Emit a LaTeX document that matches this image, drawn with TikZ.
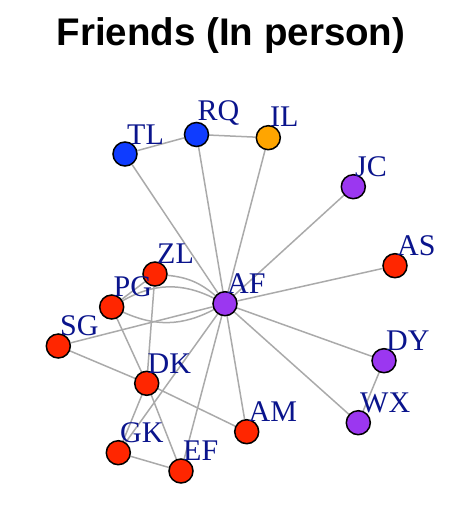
\documentclass[tikz,border=0pt]{standalone}
\usepackage{fontspec}
\setmainfont{Liberation Serif}
\newfontfamily\titlefont{Liberation Sans}
\usetikzlibrary{backgrounds}
\definecolor{vred}{RGB}{255,38,0}
\definecolor{vblue}{RGB}{15,60,255}
\definecolor{vorange}{RGB}{255,165,0}
\definecolor{vpurple}{RGB}{155,55,240}
\definecolor{lblblue}{RGB}{10,20,140}
\definecolor{edgegray}{RGB}{170,170,170}

\begin{document}
\begin{tikzpicture}[x=1pt,y=-1pt,
    vtx/.style={circle,draw=black,line width=1.5pt,minimum size=24pt,inner sep=0pt},
    lbl/.style={anchor=base west,inner sep=0pt,text=lblblue,font=\fontsize{30}{30}\selectfont},
    edge/.style={draw=edgegray,line width=1.5pt}]
    % Page in pixel units, y pointing down
    \useasboundingbox (0,0) rectangle (474,506);
    \node[font=\titlefont\bfseries\fontsize{38.5}{40}\selectfont,anchor=base] (title) at (231,45) {Friends (In person)};
    % Vertices
    \node[vtx,fill=vblue]   (TL) at (125,154) {};
    \node[vtx,fill=vblue]   (RQ) at (196.5,134.5) {};
    \node[vtx,fill=vorange] (IL) at (268.3,137.7) {};
    \node[vtx,fill=vpurple] (JC) at (353.3,186.7) {};
    \node[vtx,fill=vred]    (AS) at (395,265.7) {};
    \node[vtx,fill=vpurple] (AF) at (225,303.7) {};
    \node[vtx,fill=vred]    (ZL) at (155,274) {};
    \node[vtx,fill=vred]    (PG) at (111.7,307) {};
    \node[vtx,fill=vred]    (SG) at (58.3,346) {};
    \node[vtx,fill=vred]    (DK) at (146.7,383.3) {};
    \node[vtx,fill=vpurple] (DY) at (384,360.7) {};
    \node[vtx,fill=vpurple] (WX) at (358.3,422.7) {};
    \node[vtx,fill=vred]    (AM) at (246.7,431.7) {};
    \node[vtx,fill=vred]    (GK) at (118.3,452.7) {};
    \node[vtx,fill=vred]    (EF) at (181,471) {};
    % Labels, up and to the right of each vertex
    \node[lbl] (TLl) at (127,144.5) {TL};
    \node[lbl] (RQl) at (197.5,120) {RQ};
    \node[lbl] (ILl) at (270,126.5) {IL};
    \node[lbl] (JCl) at (355,176) {JC};
    \node[lbl] (ASl) at (397,255.5) {AS};
    \node[lbl] (AFl) at (227,293) {AF};
    \node[lbl] (ZLl) at (157,263.5) {ZL};
    \node[lbl] (PGl) at (113.5,296.5) {PG};
    \node[lbl] (SGl) at (60,335.5) {SG};
    \node[lbl] (DKl) at (147.5,373) {DK};
    \node[lbl] (DYl) at (386,350) {DY};
    \node[lbl] (WXl) at (360,412) {WX};
    \node[lbl] (AMl) at (248.5,421) {AM};
    \node[lbl] (GKl) at (120,442) {GK};
    \node[lbl] (EFl) at (183,460.5) {EF};
    % Edges, behind the vertices
    \begin{scope}[on background layer]
        \draw[edge] (TL) -- (RQ);
        \draw[edge] (RQ) -- (IL);
        \draw[edge] (TL) -- (AF);
        \draw[edge] (RQ) -- (AF);
        \draw[edge] (IL) -- (AF);
        \draw[edge] (JC) -- (AF);
        \draw[edge] (AS) -- (AF);
        \draw[edge] (DY) -- (AF);
        \draw[edge] (WX) -- (AF);
        \draw[edge] (DY) -- (WX);
        \draw[edge] (AM) -- (AF);
        \draw[edge] (EF) -- (AF);
        \draw[edge] (GK) -- (AF);
        \draw[edge] (SG) -- (AF);
        \draw[edge] (ZL) to[bend left=17] (AF);
        \draw[edge] (PG) to[bend left=28] (AF);
        \draw[edge] (PG) to[bend right=26] (AF);
        \draw[edge] (ZL) -- (PG);
        \draw[edge] (ZL) -- (DK);
        \draw[edge] (PG) -- (DK);
        \draw[edge] (DK) -- (EF);
        \draw[edge] (SG) -- (DK);
        \draw[edge] (DK) -- (AM);
        \draw[edge] (GK) -- (DK);
        \draw[edge] (GK) -- (EF);
    \end{scope}
\end{tikzpicture}
\end{document}
